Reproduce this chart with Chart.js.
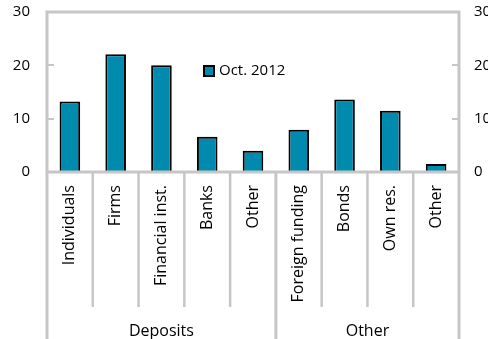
<!DOCTYPE html>
<html>
<head>
<meta charset="utf-8">
<script src="https://cdn.jsdelivr.net/npm/chart.js@4"></script>
<style>
  html, body { margin: 0; padding: 0; background: #fff; }
  #wrap { width: 488px; height: 339px; position: relative; }
</style>
</head>
<body>
<div id="wrap"><canvas id="funding_canvas"></canvas></div>
<script>
const categories = ["Individuals", "Firms", "Financial inst.", "Banks", "Other", "Foreign funding", "Bonds", "Own res.", "Other"];
const groups = ["Deposits", "Other"];
const group_sizes = [5, 4];
const series_label = "Oct. 2012";
const series_values = [13.2, 22.1, 20.0, 6.6, 4.0, 7.9, 13.6, 11.5, 1.5];
const y_min = 0;
const y_max = 30;
const y_step = 10;

const font_family = "'Open Sans', sans-serif";
const frame_color = "#c6c6c6";
const bar_color = "#008aad";

// grey frame, inward ticks, category dividers, group names and the legend
const decorations = {
    id: "decorations",
    afterDraw(chart){
        let ctx = chart.ctx;
        let x = chart.scales.x;
        let y = chart.scales.y;
        let left = x.left, right = x.right, top = y.top, bottom = y.bottom;
        ctx.save();
        ctx.strokeStyle = frame_color;
        ctx.lineWidth = 3;
        ctx.lineCap = "square";
        ctx.beginPath();
        ctx.moveTo(left, bottom);
        ctx.lineTo(left, top);
        ctx.lineTo(right, top);
        ctx.lineTo(right, bottom);
        ctx.lineTo(left, bottom);
        ctx.stroke();

        ctx.lineCap = "butt";
        ctx.lineWidth = 2;
        for(let v = y_min; v <= y_max; v += y_step){
            let py = Math.round(y.getPixelForValue(v));
            ctx.beginPath();
            ctx.moveTo(left, py);
            ctx.lineTo(left + 7, py);
            ctx.moveTo(right, py);
            ctx.lineTo(right - 7, py);
            ctx.stroke();
        }

        let group_edges = [0];
        group_sizes.forEach(n => group_edges.push(group_edges[group_edges.length - 1] + n));
        for(let i = 0; i <= categories.length; i++){
            let px = x.getPixelForValue(i - 0.5);
            let end = group_edges.includes(i) ? chart.height : bottom + 135;
            ctx.lineWidth = group_edges.includes(i) ? 3 : 2.5;
            ctx.beginPath();
            ctx.moveTo(px, bottom);
            ctx.lineTo(px, end);
            ctx.stroke();
        }

        ctx.fillStyle = "#000";
        ctx.font = "16px " + font_family;
        ctx.textAlign = "center";
        ctx.textBaseline = "middle";
        for(let g = 0; g < groups.length; g++){
            let gl = x.getPixelForValue(group_edges[g] - 0.5);
            let gr = x.getPixelForValue(group_edges[g + 1] - 0.5);
            ctx.fillText(groups[g], (gl + gr) / 2, 331);
        }

        let ds = chart.data.datasets[0];
        ctx.fillStyle = ds.backgroundColor;
        ctx.fillRect(204, 66, 10, 10);
        ctx.strokeStyle = "#000";
        ctx.lineWidth = 2;
        ctx.strokeRect(204, 66, 10, 10);
        ctx.fillStyle = "#000";
        ctx.font = "15px " + font_family;
        ctx.textAlign = "left";
        ctx.fillText(ds.label, 219, 71);
        ctx.restore();
    }
};

// invisible tick marks keep the labels away from the frame
function value_axis(position, width, tick_length){
    return {
        type: "linear",
        position: position,
        min: y_min,
        max: y_max,
        ticks: {
            stepSize: y_step,
            padding: 3,
            color: "#000",
            font: { family: font_family, size: 15 }
        },
        grid: {
            display: true,
            drawOnChartArea: false,
            drawTicks: true,
            tickLength: tick_length,
            color: "rgba(0,0,0,0)"
        },
        border: { display: false },
        afterFit(scale){ scale.width = width; }
    };
}

new Chart(document.getElementById("funding_canvas"), {
    type: "bar",
    data: {
        labels: categories,
        datasets: [{
            label: series_label,
            data: series_values,
            backgroundColor: bar_color,
            borderColor: "#000",
            borderWidth: 2,
            categoryPercentage: 1.0,
            barPercentage: 0.45
        }]
    },
    options: {
        responsive: true,
        maintainAspectRatio: false,
        animation: false,
        layout: { padding: { top: 12, left: 0, right: 0, bottom: 0 } },
        plugins: {
            legend: { display: false },
            tooltip: { enabled: false }
        },
        scales: {
            x: {
                ticks: {
                    autoSkip: false,
                    minRotation: 90,
                    maxRotation: 90,
                    padding: 13,
                    color: "#000",
                    font: { family: font_family, size: 16 }
                },
                grid: { display: false, drawTicks: false },
                border: { display: false },
                afterFit(scale){ scale.height = 167; }
            },
            y: value_axis("left", 47, 14),
            y2: value_axis("right", 29, 12)
        }
    },
    plugins: [decorations]
});
</script>
</body>
</html>
